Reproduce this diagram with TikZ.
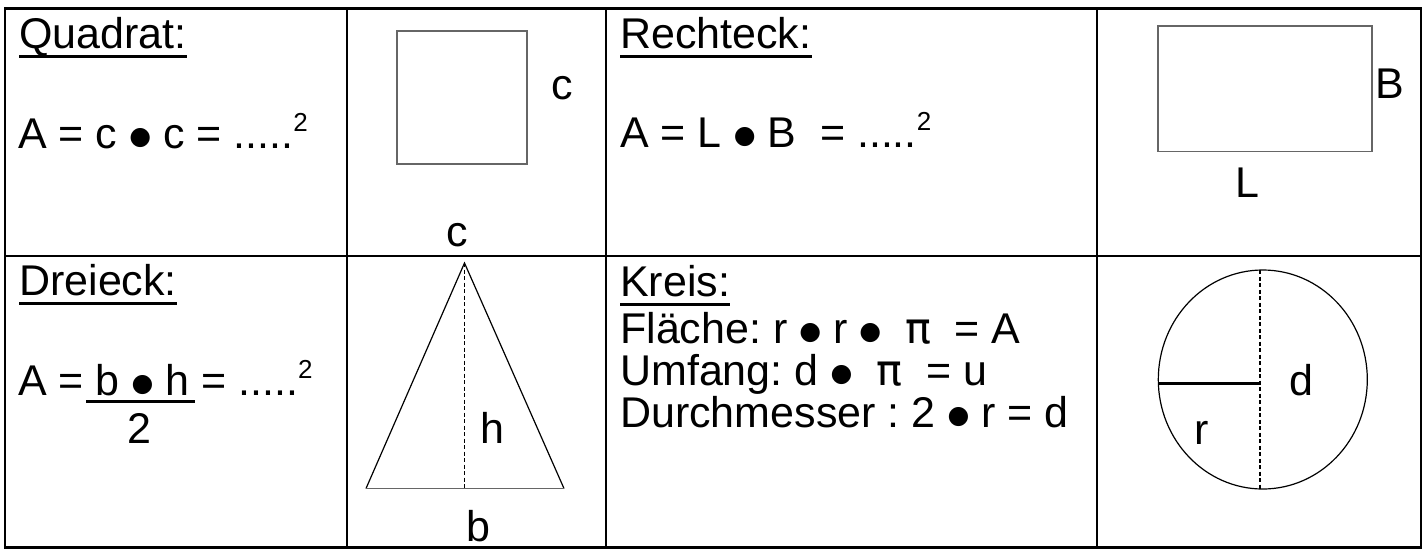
\documentclass[tikz,border=0pt]{standalone}
\usepackage{fontspec}
\setmainfont{Liberation Sans}
\newfontfamily\dejavu{DejaVu Sans}
\frenchspacing
\newcommand\hochzwei{\raisebox{16.5pt}{\fontsize{26}{27}\selectfont 2}}
\newcommand\bul{\raisebox{3.8pt}{\dejavu\fontsize{25}{26}\selectfont ●}}
\newcommand\kreiszahl{{\dejavu π}}
\tikzset{
  txt/.style={inner sep=0pt, anchor=base west, font=\fontsize{43}{47}\selectfont},
  lbl/.style={inner sep=0pt, anchor=base, font=\fontsize{43}{47}\selectfont},
  gridline/.style={line width=2.6pt},
  ulline/.style={line width=3pt},
  figline/.style={line width=1.2pt},
  grayfig/.style={line width=1.3pt, draw=black!60},
  dashline/.style={line width=1.5pt, dash pattern=on 4pt off 2.5pt}
}
\begin{document}
\begin{tikzpicture}[x=1pt,y=-1pt]
\useasboundingbox (0,0) rectangle (1426,550);
% table grid
\draw[gridline] (5,8.5) rectangle (1421,547.5);
\draw[gridline] (347,8.5) -- (347,547.5);
\draw[gridline] (606,8.5) -- (606,547.5);
\draw[gridline] (1097,8.5) -- (1097,547.5);
\draw[gridline] (5,256) -- (1421,256);

% Quadrat
\node[txt] (tq) at (19,48.5) {Quadrat:};
\draw[ulline] ([yshift=-8pt]tq.base west) -- ([yshift=-8pt]tq.base east);
\node[txt] (fq) at (18,148) {A = c \bul{} c = .....\hochzwei};
\draw[grayfig] (397,31) rectangle (527,164);
\node[lbl] (qc1) at (562,99) {c};
\node[lbl] (qc2) at (457,246.5) {c};

% Rechteck
\node[txt] (tr) at (620,48.5) {Rechteck:};
\draw[ulline] ([yshift=-8pt]tr.base west) -- ([yshift=-8pt]tr.base east);
\node[txt] (fr) at (620,147) {A = L \bul{} B\ \ = .....\hochzwei};
\draw[grayfig] (1158,26) rectangle (1372,151.5);
\node[lbl] (rb) at (1390,98) {B};
\node[lbl] (rl) at (1247,197) {L};

% Dreieck
\node[txt] (td) at (19,295) {Dreieck:};
\draw[ulline] ([yshift=-8pt]td.base west) -- ([yshift=-8pt]td.base east);
\node[txt] (fd) at (18,395) {A = b \bul{} h = .....\hochzwei};
\draw[ulline] (86,401) -- (195,401);
\node[lbl] (fd2) at (139,443) {2};
\coordinate (apex) at (464.5,263);
\coordinate (bl) at (366,488.5);
\coordinate (br) at (564,488.5);
\coordinate (foot) at (464.5,488.5);
\draw[figline] (bl) -- (apex) -- (br);
\draw[grayfig] (bl) -- (br);
\draw[dashline] (apex) -- (foot);
\node[lbl] (dh) at (492,443) {h};
\node[lbl] (db) at (478,541) {b};

% Kreis
\node[txt] (tk) at (620,296) {Kreis:};
\draw[ulline] ([yshift=-8pt]tk.base west) -- ([yshift=-8pt]tk.base east);
\node[txt] (k1) at (620,343) {Fläche: r \bul{} r \bul\ \ \kreiszahl\ \ = A};
\node[txt] (k2) at (620,385) {Umfang: d \bul\ \ \kreiszahl\ \ = u};
\node[txt] (k3) at (620,427) {Durchmesser : 2 \bul{} r = d};
\draw[figline] (1262.8,379.5) ellipse [x radius=104.5, y radius=109.5];
\coordinate (ctop) at (1260,270);
\coordinate (cbot) at (1260,489);
\coordinate (cmid) at (1260,383.3);
\coordinate (cleft) at (1158.5,383.3);
\draw[dashline] (ctop) -- (cbot);
\draw[line width=3pt] (cleft) -- (cmid);
\node[lbl] (kd) at (1301,395.5) {d};
\node[lbl] (kr) at (1202,444) {r};
\end{tikzpicture}
\end{document}
